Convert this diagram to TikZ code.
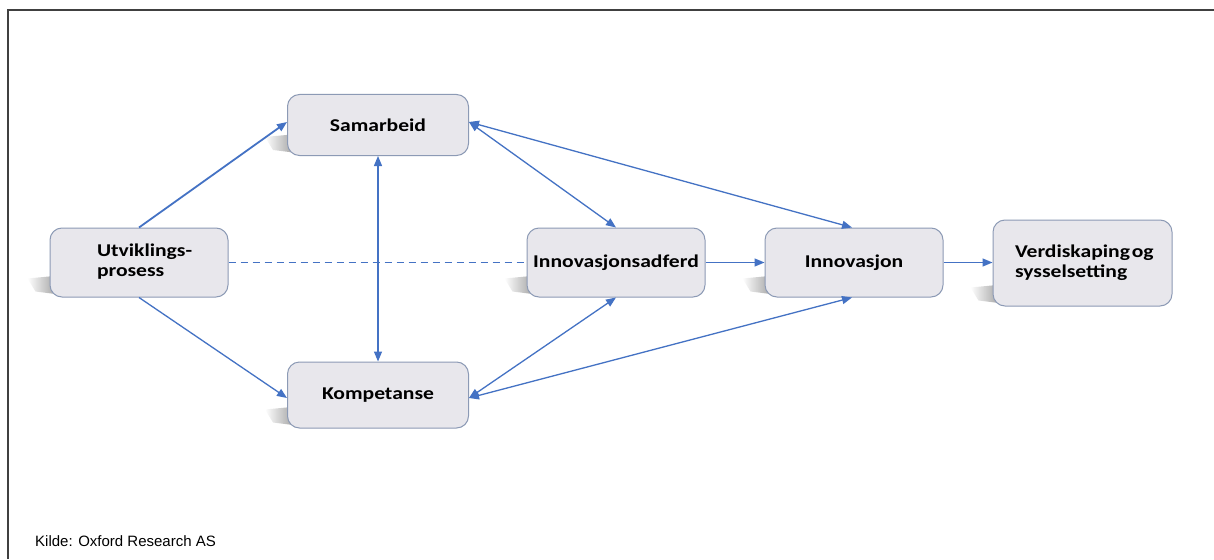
\documentclass[tikz,border=0pt]{standalone}
\usepackage{fontspec}
\setmainfont{Carlito}
\newfontfamily\boxfont{Carlito}[FakeStretch=1.2]
\newfontfamily\kildefont{Liberation Sans}
\usetikzlibrary{arrows.meta,fadings}
\definecolor{arrowblue}{HTML}{4472C4}
\definecolor{boxfill}{HTML}{E8E7EC}
\definecolor{boxline}{HTML}{8C9AB5}
\tikzset{
  box/.style={draw=boxline, line width=1pt, fill=boxfill, rounded corners=12pt,
    minimum width=178pt, minimum height=69pt, align=left,
    font=\boxfont\fontsize{18}{20}\selectfont\bfseries, inner sep=2pt},
  conn/.style={draw=arrowblue, line width=1.3pt},
  tip/.style={-{Triangle[length=10pt,width=8pt]}},
  both/.style={{Triangle[length=10pt,width=8pt]}-{Triangle[length=10pt,width=8pt]}},
  shadowfill/.style={fill=gray!80, path fading=west},
}
\newcommand{\boxshadow}[1]{%
  \fill[shadowfill] ([xshift=-22pt,yshift=19pt]#1.south west) -- ([xshift=10pt,yshift=22pt]#1.south west)
   -- ([xshift=10pt,yshift=3pt]#1.south west) -- ([xshift=-14pt,yshift=6pt]#1.south west) -- cycle;}
\newcommand{\lefttwo}[3]{\makebox[#1][l]{\begin{tabular}{@{}l@{}}#2\\#3\end{tabular}}}
\begin{document}
\begin{tikzpicture}[x=1pt,y=-1pt]
\useasboundingbox (0,0) rectangle (1214,559);
\fill[white] (0,0) rectangle (1214,559);
\draw[line width=2pt, color=black!75] (8,559) -- (8,10) -- (1214,10);

\path
  (378,125) node[box, minimum width=181pt, minimum height=61pt, draw=none, fill=none] (samS) {}
  (139,262.5) node[box, draw=none, fill=none] (utvS) {}
  (616,262.5) node[box, draw=none, fill=none] (adfS) {}
  (854,262.5) node[box, draw=none, fill=none] (innS) {}
  (1082.5,263) node[box, minimum width=179pt, minimum height=86pt, draw=none, fill=none] (verS) {}
  (378,395) node[box, minimum width=181pt, minimum height=66pt, draw=none, fill=none] (kompS) {};
\boxshadow{samS}
\boxshadow{utvS}
\boxshadow{adfS}
\boxshadow{innS}
\boxshadow{verS}
\boxshadow{kompS}

\node[box, minimum width=181pt, minimum height=61pt] (sam) at (378,125) {Samarbeid};
\node[box] (utv) at (139,262.5) {\lefttwo{84pt}{Utviklings-}{prosess}};
\node[box] (adf) at (616,262.5) {Innovasjonsadferd};
\node[box] (inn) at (854,262.5) {Innovasjon};
\node[box, minimum width=179pt, minimum height=86pt] (ver) at (1082.5,263) {\lefttwo{135pt}{Verdiskaping\kern0.1em og}{sysselsetting}};
\node[box, minimum width=181pt, minimum height=66pt] (komp) at (378,395) {Kompetanse};

\draw[conn, tip, line width=1.8pt] (utv.north) -- ([yshift=3pt]sam.west);
\draw[conn, tip] (utv.south) -- ([yshift=-3pt]komp.west);
\draw[conn, dashed, dash pattern=on 7pt off 5pt] (utv.east) -- (adf.west);
\draw[conn, both] (sam.south) -- (komp.north);
\draw[conn, both] ([yshift=3pt]sam.east) -- (adf.north);
\draw[conn, both] ([yshift=3pt]sam.east) -- ([xshift=-2pt]inn.north);
\draw[conn, both] ([yshift=-3pt]komp.east) -- (adf.south);
\draw[conn, both] ([yshift=-3pt]komp.east) -- ([xshift=-2pt]inn.south);
\draw[conn, tip] (adf.east) -- (inn.west);
\draw[conn, tip] (inn.east) -- (inn.east -| ver.west);

\node[anchor=west, font=\kildefont\fontsize{15}{17}\selectfont, inner sep=0pt] (kilde) at (35,541) {Kilde: Oxford Research AS};
\end{tikzpicture}
\end{document}
